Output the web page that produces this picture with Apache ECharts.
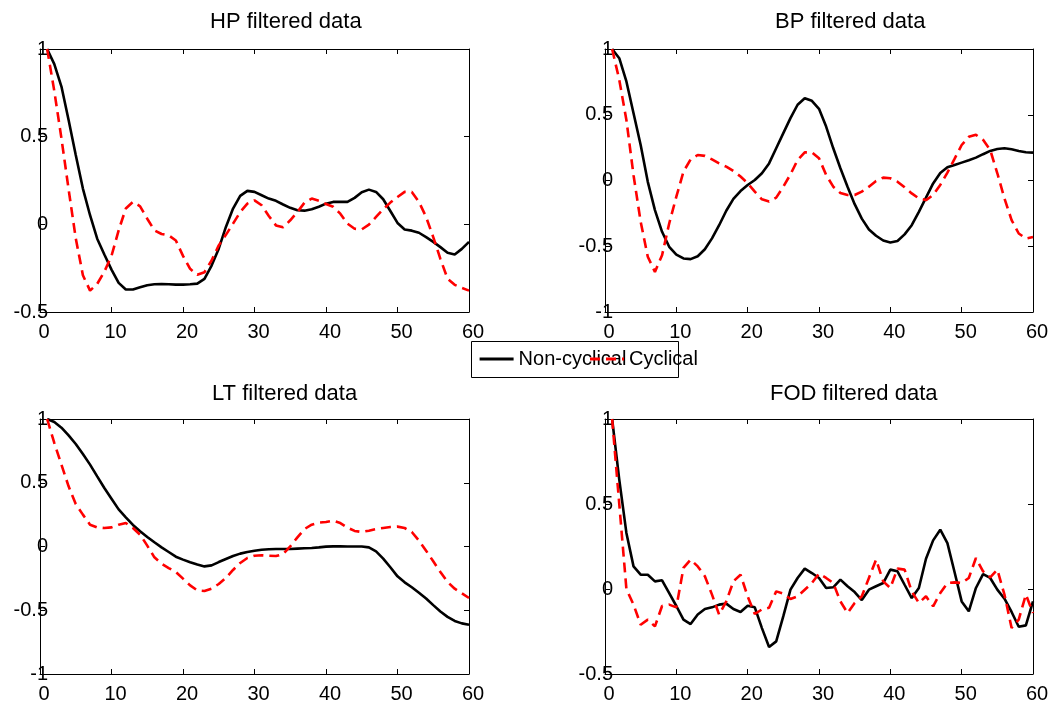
<!DOCTYPE html>
<html><head><meta charset="utf-8">
<script src="https://cdn.jsdelivr.net/npm/echarts@6/dist/echarts.min.js"></script>
<style>html,body{margin:0;padding:0;background:#fff}#c{width:1053px;height:707px}</style>
</head><body><div id="c"></div>
<script>
const lags = [1,2,3,4,5,6,7,8,9,10,11,12,13,14,15,16,17,18,19,20,21,22,23,24,25,26,27,28,29,30,31,32,33,34,35,36,37,38,39,40,41,42,43,44,45,46,47,48,49,50,51,52,53,54,55,56,57,58,59,60];
const xTicks = {min: 0, max: 60, step: 10};
const seriesNames = ['Non-cyclical', 'Cyclical'];
const panelTitles = ['HP filtered data', 'BP filtered data', 'LT filtered data', 'FOD filtered data'];
const yRanges = [[-0.5, 1], [-1, 1], [-1, 1], [-0.5, 1]];

const hpNon = [1.0,0.914,0.786,0.595,0.395,0.204,0.052,-0.082,-0.172,-0.258,-0.334,-0.372,-0.372,-0.359,-0.347,-0.342,-0.34,-0.342,-0.344,-0.344,-0.342,-0.338,-0.311,-0.235,-0.139,-0.015,0.09,0.162,0.191,0.185,0.166,0.147,0.134,0.113,0.094,0.08,0.078,0.086,0.10,0.118,0.128,0.128,0.128,0.151,0.183,0.198,0.185,0.143,0.076,0.008,-0.029,-0.036,-0.048,-0.073,-0.1,-0.13,-0.162,-0.172,-0.14,-0.10];
const hpCyc = [1.0,0.76,0.49,0.2,-0.08,-0.29,-0.378,-0.34,-0.27,-0.18,-0.034,0.09,0.128,0.103,0.032,-0.034,-0.055,-0.063,-0.092,-0.18,-0.254,-0.288,-0.273,-0.206,-0.12,-0.06,0.004,0.07,0.118,0.137,0.109,0.048,-0.006,-0.017,0.023,0.07,0.124,0.147,0.135,0.116,0.10,0.061,0.004,-0.025,-0.029,-0.002,0.042,0.086,0.124,0.156,0.185,0.185,0.128,0.042,-0.073,-0.197,-0.31,-0.345,-0.363,-0.378];
const bpNon = [1.0,0.93,0.753,0.512,0.27,-0.01,-0.225,-0.39,-0.504,-0.563,-0.593,-0.598,-0.576,-0.523,-0.44,-0.34,-0.23,-0.14,-0.08,-0.034,0.004,0.055,0.13,0.245,0.36,0.474,0.576,0.626,0.606,0.545,0.41,0.245,0.093,-0.047,-0.18,-0.29,-0.372,-0.42,-0.456,-0.471,-0.46,-0.41,-0.34,-0.238,-0.13,-0.022,0.057,0.10,0.118,0.136,0.154,0.174,0.2,0.225,0.24,0.245,0.238,0.225,0.215,0.212];
const bpCyc = [1.0,0.766,0.46,0.04,-0.314,-0.58,-0.695,-0.568,-0.327,-0.123,0.067,0.16,0.194,0.187,0.16,0.13,0.105,0.072,0.03,-0.02,-0.085,-0.143,-0.16,-0.13,-0.047,0.047,0.156,0.214,0.214,0.17,0.042,-0.047,-0.095,-0.11,-0.11,-0.085,-0.047,-0.004,0.022,0.017,-0.009,-0.052,-0.098,-0.136,-0.149,-0.11,-0.034,0.06,0.164,0.27,0.332,0.347,0.309,0.233,0.055,-0.136,-0.301,-0.403,-0.441,-0.43];
const ltNon = [1.0,0.976,0.932,0.872,0.804,0.725,0.642,0.55,0.459,0.375,0.291,0.229,0.169,0.119,0.075,0.033,-0.007,-0.043,-0.08,-0.103,-0.124,-0.142,-0.156,-0.148,-0.122,-0.098,-0.075,-0.056,-0.043,-0.033,-0.025,-0.022,-0.02,-0.02,-0.02,-0.017,-0.014,-0.012,-0.007,-0.001,0.001,0.001,0,0,0,-0.007,-0.038,-0.095,-0.163,-0.234,-0.281,-0.32,-0.363,-0.408,-0.46,-0.51,-0.552,-0.584,-0.603,-0.613];
const ltCyc = [1.0,0.812,0.642,0.472,0.333,0.25,0.171,0.15,0.145,0.15,0.171,0.184,0.145,0.093,0.007,-0.085,-0.135,-0.169,-0.2,-0.252,-0.305,-0.344,-0.349,-0.331,-0.294,-0.247,-0.184,-0.129,-0.09,-0.072,-0.069,-0.072,-0.075,-0.059,0.001,0.072,0.137,0.171,0.187,0.192,0.203,0.184,0.148,0.122,0.114,0.124,0.137,0.145,0.153,0.156,0.145,0.114,0.046,-0.033,-0.116,-0.2,-0.278,-0.331,-0.367,-0.404];
const fodNon = [1.0,0.643,0.33,0.133,0.084,0.084,0.045,0.051,-0.024,-0.1,-0.18,-0.206,-0.15,-0.118,-0.108,-0.092,-0.086,-0.118,-0.135,-0.098,-0.108,-0.23,-0.341,-0.308,-0.16,-0.004,0.065,0.12,0.094,0.065,0.006,0.01,0.055,0.016,-0.018,-0.065,-0.004,0.016,0.035,0.114,0.104,0.025,-0.053,0.006,0.178,0.286,0.349,0.27,0.1,-0.073,-0.131,0.006,0.088,0.065,-0.004,-0.057,-0.135,-0.222,-0.214,-0.073];
const fodCyc = [1.0,0.5,0.0,-0.092,-0.21,-0.18,-0.22,-0.1,-0.092,-0.108,0.124,0.173,0.133,0.075,-0.033,-0.151,-0.073,0.045,0.084,-0.043,-0.147,-0.12,-0.11,-0.014,-0.027,-0.059,-0.043,-0.004,0.035,0.09,0.065,0.035,-0.073,-0.141,-0.082,-0.043,0.065,0.173,0.045,0.006,0.12,0.114,-0.014,-0.082,-0.043,-0.102,-0.024,0.035,0.039,0.035,0.065,0.182,0.104,0.069,0.114,-0.033,-0.229,-0.18,-0.033,-0.141];

const panelData = [[hpNon, hpCyc], [bpNon, bpCyc], [ltNon, ltCyc], [fodNon, fodCyc]];
const boxes = [
  {left: 40, top: 49, width: 429, height: 263, tx: 210, ty: 11},
  {left: 605, top: 49, width: 428, height: 263, tx: 775, ty: 11},
  {left: 40, top: 419, width: 429, height: 255, tx: 212, ty: 383},
  {left: 605, top: 419, width: 428, height: 255, tx: 770, ty: 383}
];
const FONT = '"Liberation Sans", Arial, Helvetica, sans-serif';

const grid = [], xAxis = [], yAxis = [], series = [], title = [];
boxes.forEach((b, i) => {
  grid.push({left: b.left, top: b.top, width: b.width, height: b.height});
  const tick = {show: true, inside: true, length: 5, lineStyle: {color: '#000', width: 1}};
  const line = {show: true, onZero: false, lineStyle: {color: '#000', width: 1}};
  const base = {gridIndex: i, type: 'value', axisLine: line, axisTick: tick, splitLine: {show: false}};
  xAxis.push(Object.assign({}, base, {position: 'bottom', min: xTicks.min, max: xTicks.max, interval: xTicks.step,
    axisLabel: {color: '#000', fontSize: 20, fontFamily: FONT, margin: 10, padding: [0, 0, 0, 8]}}));
  xAxis.push(Object.assign({}, base, {position: 'top', min: xTicks.min, max: xTicks.max, interval: xTicks.step,
    axisLabel: {show: false}}));
  yAxis.push(Object.assign({}, base, {position: 'left', min: yRanges[i][0], max: yRanges[i][1], interval: 0.5,
    axisLabel: {color: '#000', fontSize: 20, fontFamily: FONT, margin: -8}}));
  yAxis.push(Object.assign({}, base, {position: 'right', min: yRanges[i][0], max: yRanges[i][1], interval: 0.5,
    axisLabel: {show: false}}));
  title.push({text: panelTitles[i], left: b.tx, top: b.ty, padding: 0,
    textStyle: {fontSize: 22, fontWeight: 'normal', color: '#000', fontFamily: FONT}});
  const [non, cyc] = panelData[i];
  series.push({name: seriesNames[0], type: 'line', xAxisIndex: 2 * i, yAxisIndex: 2 * i,
    data: lags.map((x, k) => [x, non[k]]), symbol: 'none', silent: true,
    lineStyle: {color: '#000', width: 2.6}, itemStyle: {color: '#000'}});
  series.push({name: seriesNames[1], type: 'line', xAxisIndex: 2 * i, yAxisIndex: 2 * i,
    data: lags.map((x, k) => [x, cyc[k]]), symbol: 'none', silent: true,
    lineStyle: {color: '#ff0000', width: 2.6, type: [10, 6]}, itemStyle: {color: '#ff0000'}});
});

const chart = echarts.init(document.getElementById('c'));
chart.setOption({
  animation: false,
  backgroundColor: '#fff',
  title, grid, xAxis, yAxis, series,
  legend: {data: seriesNames, left: 478, top: 349, orient: 'horizontal', itemWidth: 34, itemHeight: 20,
    itemGap: -38, padding: 0, itemStyle: {opacity: 0, borderWidth: 0}, lineStyle: {width: 3.2},
    textStyle: {fontSize: 20, color: '#000', fontFamily: FONT}},
  graphic: [{type: 'rect', z: 1, shape: {x: 471.5, y: 341.5, width: 207, height: 36},
    style: {fill: '#fff', stroke: '#000', lineWidth: 1}}]
});
</script></body></html>
